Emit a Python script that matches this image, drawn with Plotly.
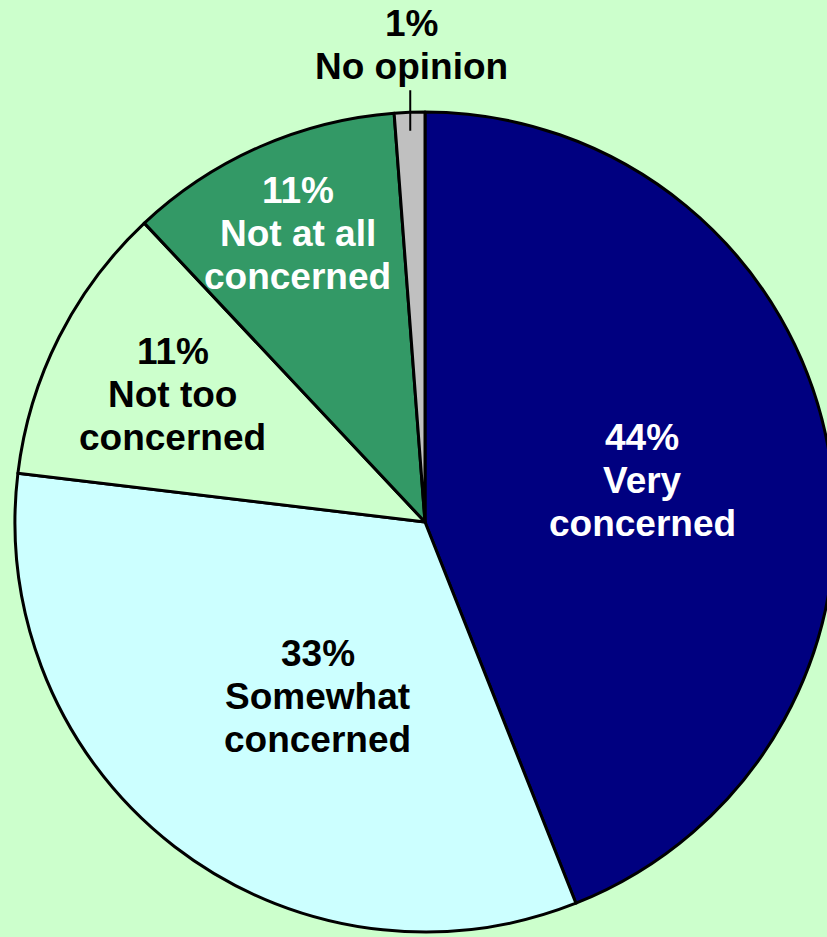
import math
import plotly.graph_objects as go

categories = ["Very concerned", "Somewhat concerned", "Not too concerned",
              "Not at all concerned", "No opinion"]
values = [44.0, 32.9, 11.1, 10.8, 1.2]
label_lines = [["44%", "Very", "concerned"],
               ["33%", "Somewhat", "concerned"],
               ["11%", "Not too", "concerned"],
               ["11%", "Not at all", "concerned"],
               ["1%", "No opinion"]]

colors = ["#000080", "#CCFFFF", "#CCFFCC", "#339966", "#C0C0C0"]
text_colors = ["white", "black", "black", "white", "black"]
radius_frac = [0.54, 0.50, 0.69, 0.77, 1.165]
angle_adj = [0, -6, 0, 0, 0.6]

W, H = 850, 937
CX, CY, R = 425, 522, 410
BG = "#CCFFCC"
FONT = "Liberation Sans, Arial, sans-serif"
LINE_H = 43

fig = go.Figure(go.Pie(
    labels=categories, values=values, sort=False, direction="clockwise",
    rotation=0, textinfo="none", hoverinfo="label",
    marker=dict(colors=colors, line=dict(color="black", width=3)),
    domain=dict(x=[0, 1], y=[(H - (CY + R)) / H, (H - (CY - R)) / H]),
    showlegend=False,
))

total = sum(values)
cum = 0
annotations = []
for i, v in enumerate(values):
    mid = (cum + v / 2) / total * 360 + angle_adj[i]
    cum += v
    rr = R * radius_frac[i]
    px = CX + rr * math.sin(math.radians(mid))
    py = CY - rr * math.cos(math.radians(mid))
    lines = label_lines[i]
    n = len(lines)
    for j, t in enumerate(lines):
        annotations.append(dict(
            x=px / W, y=1 - py / H, xref="paper", yref="paper",
            xanchor="center", yanchor="middle",
            text="<b>" + t + "</b>", showarrow=False,
            yshift=-(j - (n - 1) / 2) * LINE_H,
            font=dict(family=FONT, size=37, color=text_colors[i]),
        ))

# leader line for the smallest slice
mid_small = (total - values[-1] / 2) / total * 360
tip_r = R * 0.955
tx = CX + tip_r * math.sin(math.radians(mid_small))
ty = CY - tip_r * math.cos(math.radians(mid_small))
annotations.append(dict(
    x=tx / W, y=1 - ty / H, xref="paper", yref="paper",
    ax=0, ay=-42, axref="pixel", ayref="pixel",
    text="", showarrow=True, arrowhead=0, arrowwidth=2, arrowcolor="black",
))

fig.update_layout(
    width=W, height=H, margin=dict(l=0, r=0, t=0, b=0),
    paper_bgcolor=BG, plot_bgcolor=BG, annotations=annotations,
)

fig.write_html(
    "out.html",
    config={"displayModeBar": False},
    post_script="document.body.style.margin='0';"
                "document.documentElement.style.overflow='hidden';"
                "document.body.style.overflow='hidden';",
)
